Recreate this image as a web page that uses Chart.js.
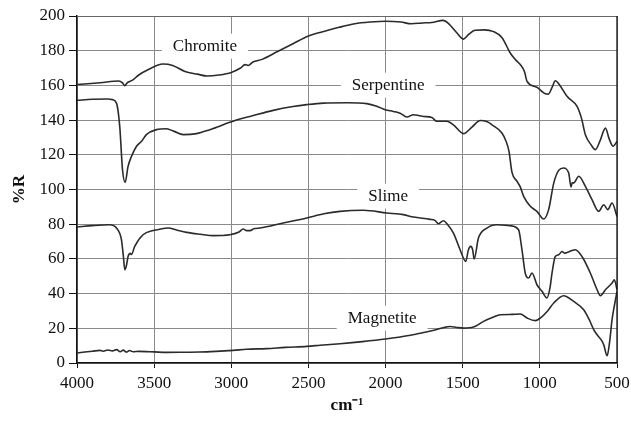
<!DOCTYPE html>
<html>
<head>
<meta charset="utf-8">
<script src="https://cdn.jsdelivr.net/npm/chart.js@4.4.1/dist/chart.umd.min.js"></script>
<style>
  html, body { margin: 0; padding: 0; background: #fff; }
  #wrap { width: 631px; height: 421px; }
</style>
</head>
<body>
<div id="wrap"><canvas id="myChart" width="631" height="421"></canvas></div>
<script>
// wavenumber (cm-1) and %R values
const chromiteX = [4000, 3850, 3730, 3705, 3690, 3675, 3640, 3600, 3540, 3444, 3380, 3300, 3220, 3158, 3080, 3000, 2940, 2911, 2890, 2860, 2800, 2700, 2600, 2500, 2425, 2300, 2200, 2100, 2000, 1900, 1834, 1760, 1700, 1627, 1590, 1540, 1495, 1460, 1420, 1360, 1300, 1245, 1192, 1160, 1127, 1100, 1083, 1019, 965, 945, 920, 900, 870, 824, 759, 730, 705, 670, 640, 610, 575, 550, 525, 500];
const chromiteY = [160.5, 161.5, 162.5, 161.5, 159.8, 161.5, 163, 166, 169, 172.3, 171.5, 168, 166.5, 165.4, 166, 167.5, 170, 172, 171.5, 173.5, 175, 179.5, 184, 188.5, 190.5, 193.5, 195.5, 196.5, 197, 196.5, 195.5, 196, 196.3, 197.5, 195.5, 190.5, 186.7, 189.5, 191.8, 192, 191, 187.5, 178.7, 175, 172, 168, 162.3, 158.9, 155.2, 155, 159, 162.7, 160, 153.7, 147.9, 141, 131.6, 126, 123, 128, 135.4, 129, 124.9, 127.7];

const serpentineX = [4000, 3900, 3800, 3770, 3744, 3723, 3705, 3688, 3669, 3647, 3615, 3580, 3550, 3485, 3420, 3370, 3312, 3225, 3139, 3009, 2944, 2879, 2728, 2600, 2511, 2403, 2250, 2122, 2057, 2003, 1950, 1906, 1862, 1819, 1780, 1754, 1700, 1668, 1603, 1560, 1495, 1440, 1386, 1340, 1311, 1246, 1220, 1200, 1181, 1148, 1127, 1105, 1062, 1019, 975, 943, 910, 878, 846, 813, 798, 790, 781, 748, 705, 662, 619, 586, 560, 532, 500];
const serpentineY = [151.4, 152, 152.2, 151.8, 149.8, 136.4, 111.4, 104.1, 113.3, 119.1, 124.8, 128, 131.6, 134.5, 135, 133.5, 131.6, 132.2, 134.5, 138.7, 140.6, 142.1, 145.6, 147.8, 148.9, 149.8, 150, 149.5, 148, 146, 145, 144, 141.8, 143.1, 142.5, 142.1, 141.5, 139.3, 139.3, 137.3, 132.2, 136, 139.8, 139, 137.3, 132.6, 128, 122, 110, 104.7, 101.5, 96, 90.3, 87.4, 83, 88.4, 103.7, 111, 112.4, 109.5, 101.4, 104, 103.7, 107.6, 101.8, 94.1, 87.4, 91.2, 88.4, 92.2, 84.5];

const slimeX = [4000, 3900, 3788, 3744, 3712, 3700, 3690, 3680, 3669, 3655, 3647, 3626, 3572, 3507, 3480, 3410, 3350, 3290, 3200, 3117, 3009, 2950, 2923, 2900, 2879, 2850, 2814, 2663, 2511, 2400, 2295, 2144, 1992, 1884, 1819, 1711, 1680, 1657, 1625, 1600, 1560, 1517, 1480, 1463, 1448, 1435, 1426, 1398, 1343, 1278, 1192, 1138, 1116, 1095, 1073, 1051, 1019, 986, 954, 935, 921, 900, 878, 856, 840, 824, 800, 770, 727, 673, 629, 608, 575, 532, 517, 500];
const slimeY = [78.4, 79.2, 79.7, 77.8, 71.1, 62, 53.8, 56, 61.4, 63.2, 62.5, 67.2, 73.9, 76.4, 76.8, 77.8, 76.5, 75.3, 74.2, 73.4, 73.9, 75.5, 77.2, 76.3, 76.3, 77.5, 77.8, 80.7, 83.6, 86, 87.4, 88, 86.5, 85.5, 84.1, 82.8, 82.2, 80.3, 82, 80, 74.9, 65.3, 58.6, 65.3, 67.2, 65, 59.9, 72, 77.8, 79.7, 79.1, 76.8, 65.3, 51.9, 49, 51.9, 45.1, 41.3, 37.5, 43, 51.9, 61.4, 62.4, 64.3, 63.3, 63.7, 64.5, 65.3, 61.4, 51.9, 42.2, 38.8, 42.2, 46.1, 48, 42.2];

const magnetiteX = [4000, 3950, 3900, 3852, 3830, 3800, 3770, 3744, 3720, 3700, 3680, 3660, 3636, 3600, 3500, 3420, 3300, 3204, 3100, 2987, 2900, 2771, 2650, 2511, 2425, 2295, 2150, 2001, 1850, 1754, 1680, 1620, 1581, 1540, 1495, 1430, 1365, 1300, 1257, 1180, 1127, 1083, 1030, 997, 950, 910, 846, 781, 716, 680, 651, 629, 600, 586, 564, 548, 532, 515, 500];
const magnetiteY = [5.8, 6.3, 6.8, 7.3, 6.8, 7.5, 7.0, 7.7, 6.5, 7.4, 6.3, 7.2, 6.5, 6.7, 6.4, 6.1, 6.2, 6.3, 6.7, 7.3, 7.9, 8.3, 9, 9.6, 10.2, 11.1, 12.3, 13.8, 15.8, 17.6, 19, 20.5, 21, 20.5, 20.1, 20.7, 24, 26.5, 27.8, 28, 28.2, 25.9, 24.4, 25.9, 30, 34.6, 38.8, 35.5, 30.7, 25, 19.2, 16.3, 13, 10.5, 4.2, 12, 25, 34, 41.3];

// in-plot labels: text, wavenumber, %R
const labelText = ["Chromite", "Serpentine", "Slime", "Magnetite"];
const labelX = [3171, 1983, 1983, 2022];
const labelY = [182.9, 160.4, 96.5, 26.1];

const xTicks = [4000, 3500, 3000, 2500, 2000, 1500, 1000, 500];

const serif = "'Liberation Serif', 'Times New Roman', serif";
const lineColor = "#2b2b2b";

function toPoints(xs, ys) {
    return xs.map((x, i) => ({ x: x, y: ys[i] }));
}

function makeSet(name, xs, ys) {
    return {
        label: name,
        data: toPoints(xs, ys),
        borderColor: lineColor,
        borderWidth: 1.6,
        pointRadius: 0,
        fill: false,
        cubicInterpolationMode: "monotone"
    };
}

const curveLabels = {
    id: "curveLabels",
    afterDatasetsDraw(chart) {
        const ctx = chart.ctx;
        const xs = chart.scales.x;
        const ys = chart.scales.y;
        ctx.save();
        ctx.font = "17px " + serif;
        ctx.textAlign = "center";
        ctx.textBaseline = "middle";
        labelText.forEach((t, i) => {
            const px = xs.getPixelForValue(labelX[i]);
            const py = ys.getPixelForValue(labelY[i]);
            const w = ctx.measureText(t).width + 22;
            ctx.fillStyle = "#fff";
            ctx.fillRect(px - w / 2, py - 12, w, 25);
            ctx.fillStyle = "#111";
            ctx.fillText(t, px, py + 1);
        });
        ctx.restore();
    }
};

const frame = {
    id: "frame",
    afterDatasetsDraw(chart) {
        const a = chart.chartArea;
        const ctx = chart.ctx;
        ctx.save();
        ctx.strokeStyle = "#666";
        ctx.lineWidth = 1;
        ctx.beginPath();
        ctx.moveTo(a.left, a.top + 0.5);
        ctx.lineTo(a.right, a.top + 0.5);
        ctx.stroke();
        ctx.strokeStyle = "#111";
        ctx.lineWidth = 1.3;
        ctx.beginPath();
        ctx.moveTo(a.right, a.top);
        ctx.lineTo(a.right, a.bottom);
        ctx.stroke();
        ctx.restore();
    }
};

const gridStyle = {
    color: "#8a8a8a",
    lineWidth: 1,
    borderDash: [5, 3, 1, 3],
    tickBorderDash: [],
    tickColor: "#111"
};

function drawChart() {
    const ctx = document.getElementById("myChart").getContext("2d");
    new Chart(ctx, {
        type: "line",
        data: {
            datasets: [
                makeSet("Chromite", chromiteX, chromiteY),
                makeSet("Serpentine", serpentineX, serpentineY),
                makeSet("Slime", slimeX, slimeY),
                makeSet("Magnetite", magnetiteX, magnetiteY)
            ]
        },
        options: {
            responsive: false,
            animation: false,
            layout: { padding: { left: 0, right: 14, top: 16, bottom: 0 } },
            plugins: {
                legend: { display: false },
                tooltip: { enabled: false }
            },
            scales: {
                x: {
                    type: "linear",
                    reverse: true,
                    min: 500,
                    max: 4000,
                    afterBuildTicks: (s) => { s.ticks = xTicks.map(v => ({ value: v })); },
                    afterFit: (s) => {
                        s.height = 58;
                        s.paddingLeft = 0;
                        s.paddingRight = 0;
                    },
                    ticks: {
                        font: { family: serif, size: 17 },
                        color: "#111",
                        padding: 5,
                        maxRotation: 0,
                        callback: (v) => String(v)
                    },
                    grid: Object.assign({ tickLength: 5 }, gridStyle),
                    border: { display: true, color: "#111", width: 1.5 },
                    title: {
                        display: true,
                        text: "cm\u207B\u00B9",
                        font: { family: serif, size: 17, weight: "bold" },
                        color: "#111",
                        padding: { top: 0, bottom: 5 }
                    }
                },
                y: {
                    min: 0,
                    max: 200,
                    afterFit: (s) => { s.width = 77; },
                    ticks: {
                        stepSize: 20,
                        font: { family: serif, size: 17 },
                        color: "#111",
                        padding: 4
                    },
                    grid: Object.assign({ tickLength: 8 }, gridStyle),
                    border: { display: true, color: "#111", width: 1.5 },
                    title: {
                        display: true,
                        text: "%R",
                        font: { family: serif, size: 17, weight: "bold" },
                        color: "#111",
                        padding: { top: 9, bottom: 0 }
                    }
                }
            }
        },
        plugins: [curveLabels, frame]
    });
}

document.addEventListener("DOMContentLoaded", function () {
    drawChart();
});
</script>
</body>
</html>
